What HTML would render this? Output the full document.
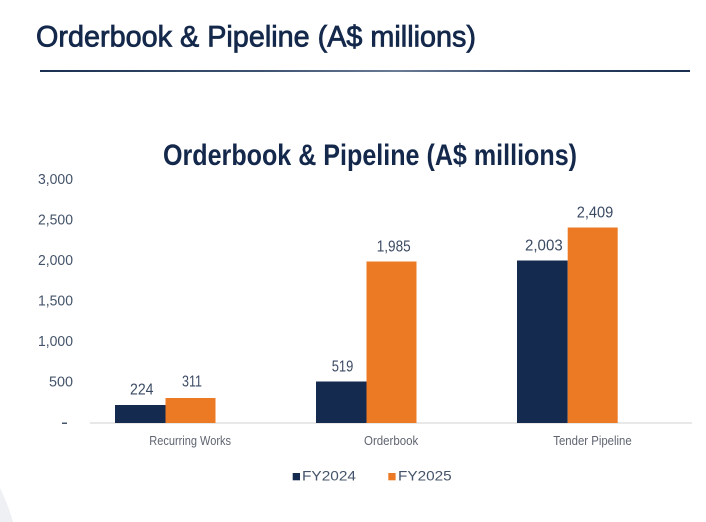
<!DOCTYPE html>
<html>
<head>
<meta charset="utf-8">
<style>
  html,body{margin:0;padding:0;background:#ffffff;}
  body{width:706px;height:522px;overflow:hidden;}
  svg{display:block;}
  text{font-family:"Liberation Sans", Arial, sans-serif;}
</style>
</head>
<body>
<svg width="706" height="522" viewBox="0 0 706 522" xmlns="http://www.w3.org/2000/svg">
  <defs>
    <linearGradient id="hl" x1="0" y1="0" x2="1" y2="0">
      <stop offset="0" stop-color="#1a3050"/>
      <stop offset="0.35" stop-color="#3f5472"/>
      <stop offset="0.55" stop-color="#6a7b95"/>
      <stop offset="0.8" stop-color="#2a3f60"/>
      <stop offset="1" stop-color="#1a3050"/>
    </linearGradient>
  </defs>
  <rect width="706" height="522" fill="#ffffff"/>

  <!-- bottom-left decorative arc -->
  <path d="M0,488 Q8,504 13,522 L0,522 Z" fill="#eef0f3"/>

  <!-- page title -->
  <text x="36" y="46.5" font-size="30" fill="#14284b" stroke="#14284b" stroke-width="0.8" textLength="440" lengthAdjust="spacingAndGlyphs">Orderbook &amp; Pipeline (A$ millions)</text>
  <rect x="40" y="70" width="650" height="2" fill="url(#hl)"/>

  <!-- chart title -->
  <text x="163" y="165" font-size="30" font-weight="bold" fill="#14284b" textLength="414" lengthAdjust="spacingAndGlyphs">Orderbook &amp; Pipeline (A$ millions)</text>

  <!-- y tick labels -->
  <g font-size="14.5" fill="#44546a" text-anchor="end">
    <text x="73" y="184" textLength="35" lengthAdjust="spacingAndGlyphs">3,000</text>
    <text x="73" y="224.5" textLength="35" lengthAdjust="spacingAndGlyphs">2,500</text>
    <text x="73" y="265" textLength="35" lengthAdjust="spacingAndGlyphs">2,000</text>
    <text x="73" y="305.5" textLength="35" lengthAdjust="spacingAndGlyphs">1,500</text>
    <text x="73" y="346" textLength="35" lengthAdjust="spacingAndGlyphs">1,000</text>
    <text x="73" y="386.5" textLength="24" lengthAdjust="spacingAndGlyphs">500</text>
  </g>
  <rect x="62" y="422.5" width="5" height="1.5" fill="#44546a"/>

  <!-- axis line -->
  <rect x="90" y="422.5" width="602" height="1" fill="#d0d0d0"/>

  <!-- bars -->
  <g>
    <rect x="115" y="405" width="50.5" height="18" fill="#142b4f"/>
    <rect x="165.5" y="398" width="50" height="25" fill="#ec7a24"/>
    <rect x="316" y="381.5" width="50.5" height="41.5" fill="#142b4f"/>
    <rect x="366.5" y="261.5" width="50" height="161.5" fill="#ec7a24"/>
    <rect x="517" y="260.5" width="50.7" height="162.5" fill="#142b4f"/>
    <rect x="567.7" y="227.5" width="50" height="195.5" fill="#ec7a24"/>
  </g>

  <!-- data labels -->
  <g font-size="15.5" fill="#3b4a63">
    <text x="130" y="394.5" textLength="23.5" lengthAdjust="spacingAndGlyphs">224</text>
    <text x="182" y="386.7" textLength="20" lengthAdjust="spacingAndGlyphs">311</text>
    <text x="331.7" y="371.7" textLength="21.6" lengthAdjust="spacingAndGlyphs">519</text>
    <text x="376.7" y="251.7" textLength="34" lengthAdjust="spacingAndGlyphs">1,985</text>
    <text x="525" y="250.7" textLength="37.7" lengthAdjust="spacingAndGlyphs">2,003</text>
    <text x="576.7" y="217.3" textLength="36.6" lengthAdjust="spacingAndGlyphs">2,409</text>
  </g>

  <!-- category labels -->
  <g font-size="12.5" fill="#5f6470">
    <text x="149.3" y="445" textLength="81.7" lengthAdjust="spacingAndGlyphs">Recurring Works</text>
    <text x="364" y="445" textLength="54.3" lengthAdjust="spacingAndGlyphs">Orderbook</text>
    <text x="553.3" y="445" textLength="78.4" lengthAdjust="spacingAndGlyphs">Tender Pipeline</text>
  </g>

  <!-- legend -->
  <rect x="292.7" y="473" width="7.3" height="7.3" fill="#142b4f"/>
  <text x="302" y="480.7" font-size="13.5" fill="#44546a" textLength="54" lengthAdjust="spacingAndGlyphs">FY2024</text>
  <rect x="388.3" y="473" width="7.3" height="7.3" fill="#ec7a24"/>
  <text x="398" y="480.7" font-size="13.5" fill="#44546a" textLength="53.7" lengthAdjust="spacingAndGlyphs">FY2025</text>
</svg>
</body>
</html>
